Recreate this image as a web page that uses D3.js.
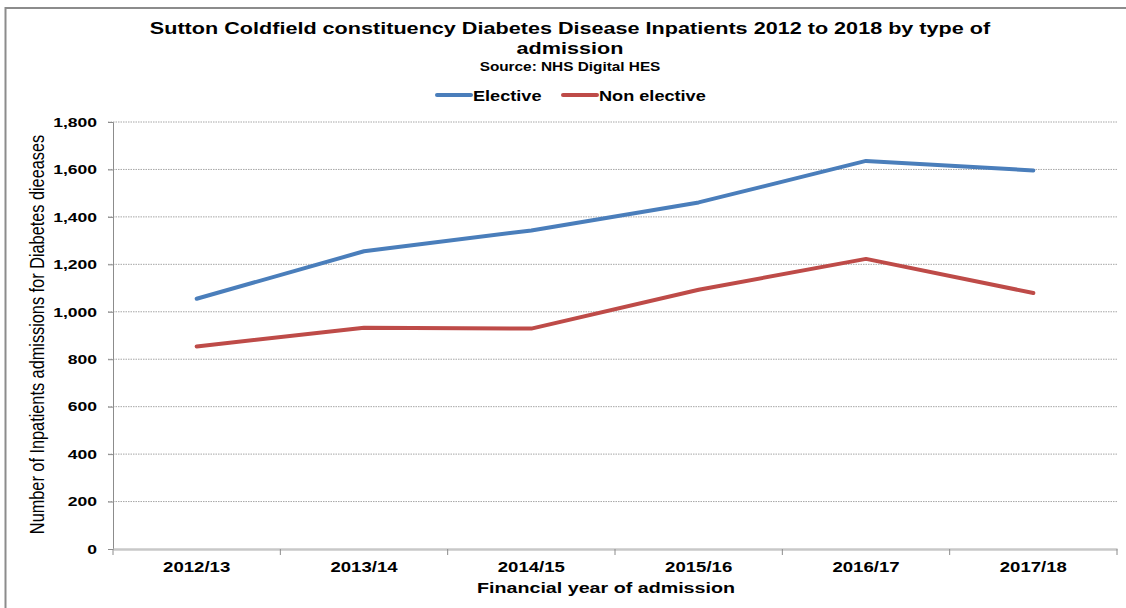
<!DOCTYPE html>
<html>
<head>
<meta charset="utf-8">
<script src="https://cdn.jsdelivr.net/npm/d3@7"></script>
<style>
  body { margin: 0; background: #fff; }
  svg { display: block; font-family: "Liberation Sans", Arial, sans-serif; }
</style>
</head>
<body>
<div id="chart"></div>
<script>
// Data
var years = ["2012/13", "2013/14", "2014/15", "2015/16", "2016/17", "2017/18"];
var elective = [1055, 1255, 1343, 1461, 1636, 1596];
var nonElective = [854, 933, 929, 1093, 1223, 1079];
var yTicks = [0, 200, 400, 600, 800, 1000, 1200, 1400, 1600, 1800];

var series = [
    {name: "Elective", values: elective, color: "#4a7ebb"},
    {name: "Non elective", values: nonElective, color: "#be4b48"}
];

var width = 1126, height = 608;
var margin = {top: 122, right: 9, bottom: 59, left: 113};

// the reference text is stretched sideways, so texts get a horizontal scale
function stretchedText(parent, x, y, sx, size, bold, label) {
    return parent.append("text")
        .attr("transform", "translate(" + x + "," + y + ") scale(" + sx + ",1)")
        .attr("text-anchor", "middle")
        .attr("font-size", size)
        .attr("font-weight", bold ? "bold" : "normal")
        .text(label);
}

var svg = d3.select("#chart").append("svg")
    .attr("width", width)
    .attr("height", height);

// Outer frame (only top and left edges visible in the reference)
svg.append("rect")
    .attr("x", 5.5).attr("y", 8)
    .attr("width", width + 20).attr("height", height + 20)
    .attr("fill", "none")
    .attr("stroke", "#8c8c8c")
    .attr("stroke-width", 2);

var innerW = width - margin.left - margin.right;
var innerH = height - margin.top - margin.bottom;

var x = d3.scaleBand().domain(years).range([0, innerW]);
var y = d3.scaleLinear().domain([0, 1800]).range([innerH, 0]);

var g = svg.append("g")
    .attr("transform", "translate(" + margin.left + "," + margin.top + ")");

// Gridlines
g.append("g").selectAll("line")
    .data(yTicks.filter(function(d) { return d > 0; }))
    .join("line")
    .attr("x1", -5).attr("x2", innerW)
    .attr("y1", function(d) { return y(d); })
    .attr("y2", function(d) { return y(d); })
    .attr("stroke", "#a6a6a6")
    .attr("stroke-width", 1)
    .attr("stroke-dasharray", "1.5,1");

// Y axis
var ySx = 1.3;
var yAxis = d3.axisLeft(y).tickValues(yTicks).tickSize(5).tickPadding(11)
    .tickFormat(d3.format(","));
var yg = g.append("g").call(yAxis);
yg.select(".domain").attr("stroke", "#8c8c8c");
yg.selectAll(".tick line").attr("stroke", "#8c8c8c");
yg.selectAll(".tick text")
    .attr("x", -16 / ySx)
    .attr("transform", "scale(" + ySx + ",1)")
    .attr("font-size", 13.5).attr("font-weight", "bold").attr("fill", "#000")
    .attr("font-family", "Liberation Sans, Arial, sans-serif");

// X axis
var xAxis = d3.axisBottom(x).tickSize(0).tickPadding(12);
var xg = g.append("g")
    .attr("transform", "translate(0," + innerH + ")")
    .call(xAxis);
xg.select(".domain").attr("stroke", "#c8c8c8").attr("stroke-width", 2.5);
xg.selectAll(".tick text")
    .attr("transform", "scale(1.24,1)")
    .attr("font-size", 15).attr("font-weight", "bold").attr("fill", "#000")
    .attr("font-family", "Liberation Sans, Arial, sans-serif");

// Category boundary ticks
g.append("g").selectAll("line")
    .data(d3.range(years.length + 1))
    .join("line")
    .attr("x1", function(i) { return i * x.step(); })
    .attr("x2", function(i) { return i * x.step(); })
    .attr("y1", innerH).attr("y2", innerH + 6)
    .attr("stroke", "#8c8c8c");

// Lines
var line = d3.line()
    .x(function(d, i) { return x(years[i]) + x.bandwidth() / 2; })
    .y(function(d) { return y(d); });

g.selectAll(".series")
    .data(series)
    .join("path")
    .attr("class", "series")
    .attr("d", function(s) { return line(s.values); })
    .attr("fill", "none")
    .attr("stroke", function(s) { return s.color; })
    .attr("stroke-width", 4)
    .attr("stroke-linejoin", "round")
    .attr("stroke-linecap", "round");

// Titles
stretchedText(svg, 570, 34, 1.31, 16.5, true,
    "Sutton Coldfield constituency Diabetes Disease Inpatients 2012 to 2018 by type of");
stretchedText(svg, 570, 54, 1.31, 16.5, true, "admission");
stretchedText(svg, 570, 71, 1.28, 12, true, "Source: NHS Digital HES");

// Legend
var legendPos = [437, 563];
var legend = svg.append("g").selectAll("g")
    .data(series)
    .join("g")
    .attr("transform", function(s, i) { return "translate(" + legendPos[i] + ",95)"; });
legend.append("line")
    .attr("x1", 0).attr("x2", 34)
    .attr("stroke", function(s) { return s.color; })
    .attr("stroke-width", 4)
    .attr("stroke-linecap", "round");
legend.append("text")
    .attr("transform", "translate(36,5.5) scale(1.21,1)")
    .attr("font-size", 15).attr("font-weight", "bold")
    .text(function(s) { return s.name; });

// Axis titles
svg.append("text")
    .attr("transform", "translate(44," + (margin.top + innerH / 2 - 1) + ") rotate(-90) scale(1,1.25)")
    .attr("text-anchor", "middle")
    .attr("font-size", 16.3)
    .text("Number of Inpatients admissions for Diabetes dieeases");
stretchedText(svg, 606, 593, 1.27, 15.5, true, "Financial year of admission");
</script>
</body>
</html>
